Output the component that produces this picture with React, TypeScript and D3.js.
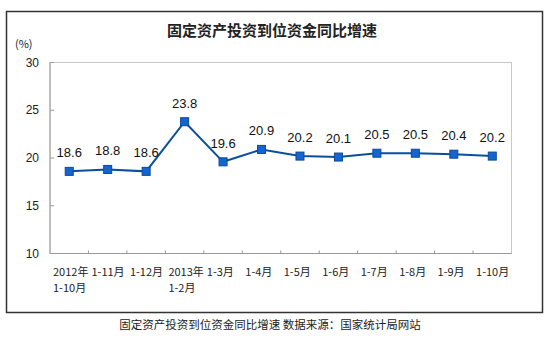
import { useMemo } from 'react'
import * as d3 from 'd3'

const categories: string[][] = [
  ['2012年', '1-10月'],
  ['1-11月'],
  ['1-12月'],
  ['2013年', '1-2月'],
  ['1-3月'],
  ['1-4月'],
  ['1-5月'],
  ['1-6月'],
  ['1-7月'],
  ['1-8月'],
  ['1-9月'],
  ['1-10月'],
]
const growth = [18.6, 18.8, 18.6, 23.8, 19.6, 20.9, 20.2, 20.1, 20.5, 20.5, 20.4, 20.2]
const yTicks = [10, 15, 20, 25, 30]

const title = '固定资产投资到位资金同比增速'
const caption = '固定资产投资到位资金同比增速  数据来源：国家统计局网站'

export default function App() {
  const width = 550
  const height = 352
  const plot = { left: 50, top: 62.5, right: 511.5, bottom: 253.5 }

  const keys = categories.map((c) => c.join(' '))
  const x = useMemo(
    () => d3.scaleBand().domain(keys).range([plot.left, plot.right]).padding(0),
    [],
  )
  const y = useMemo(() => d3.scaleLinear().domain([10, 30]).range([plot.bottom, plot.top]), [])
  const points = growth.map((v, i) => ({ key: keys[i], value: v }))
  const line = d3
    .line<{ key: string; value: number }>()
    .x((d) => (x(d.key) ?? 0) + x.bandwidth() / 2)
    .y((d) => y(d.value))

  const tickFont = '"Noto Sans CJK SC", sans-serif'
  const numFont = '"Liberation Sans", Arial, sans-serif'

  return (
    <svg
      width={width}
      height={height}
      style={{ position: 'absolute', left: 0, top: 0, background: '#fff' }}
    >
      <rect x={6.5} y={11.5} width={536} height={301} fill="#fff" stroke="#333" strokeWidth={1.5} />

      <text x={272} y={36} textAnchor="middle" fontFamily={tickFont} fontWeight="bold" fontSize={15} fill="#222">
        {title}
      </text>

      <text x={15} y={48} fontFamily={tickFont} fontSize={11} fill="#222">
        (%)
      </text>

      {/* plot border */}
      <rect
        x={plot.left}
        y={plot.top}
        width={plot.right - plot.left}
        height={plot.bottom - plot.top}
        fill="none"
        stroke="#c8c8c8"
      />
      <line x1={plot.left} x2={plot.left} y1={plot.top} y2={plot.bottom} stroke="#999" />
      <line x1={plot.left} x2={plot.right} y1={plot.bottom} y2={plot.bottom} stroke="#999" />

      {yTicks.map((t) => (
        <g key={t}>
          <line x1={plot.left} x2={plot.left + 4} y1={y(t)} y2={y(t)} stroke="#999" />
          <text x={39} y={y(t) + 4} textAnchor="end" fontFamily={numFont} fontSize={12} fill="#222">
            {t}
          </text>
        </g>
      ))}

      {keys.slice(1).map((k) => (
        <line key={k} x1={x(k) ?? 0} x2={x(k) ?? 0} y1={plot.bottom - 3} y2={plot.bottom} stroke="#999" />
      ))}

      {categories.map((c, i) =>
        c.map((part, j) => (
          <text
            key={`${keys[i]}-${j}`}
            x={(x(keys[i]) ?? 0) + 3}
            y={276 + j * 16}
            fontFamily={tickFont}
            fontSize={11}
            fill="#222"
          >
            {part}
          </text>
        )),
      )}

      <path d={line(points) ?? ''} fill="none" stroke="#0a4f9e" strokeWidth={2} />

      {points.map((d) => {
        const cx = (x(d.key) ?? 0) + x.bandwidth() / 2
        const cy = y(d.value)
        return (
          <g key={d.key}>
            <rect x={cx - 4} y={cy - 4} width={8} height={8} fill="#1565d0" stroke="#0b4a99" strokeWidth={1} />
            <text x={cx} y={cy - 14} textAnchor="middle" fontFamily={numFont} fontSize={13} fill="#111">
              {d.value.toFixed(1)}
            </text>
          </g>
        )
      })}

      <text x={270} y={329} textAnchor="middle" fontFamily={tickFont} fontSize={11.5} fill="#222">
        {caption}
      </text>
    </svg>
  )
}
